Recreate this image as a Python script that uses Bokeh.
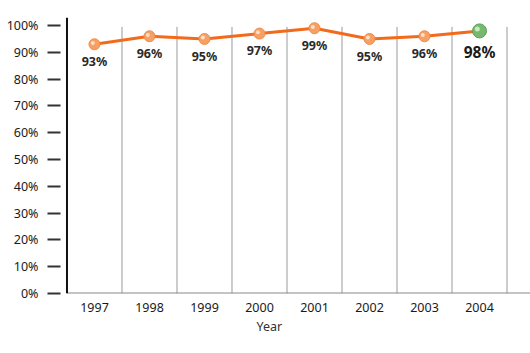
from bokeh.plotting import figure
from bokeh.models import Range1d, FixedTicker, Span, Title, ColumnDataSource
from bokeh.core.properties import value
from bokeh.embed import file_html
from bokeh.resources import INLINE

years = ["1997", "1998", "1999", "2000", "2001", "2002", "2003", "2004"]
rates = [93, 96, 95, 97, 99, 95, 96, 98]
labels = ["93%", "96%", "95%", "97%", "99%", "95%", "96%", "98%"]
y_ticks = [0, 10, 20, 30, 40, 50, 60, 70, 80, 90, 100]

xs = list(range(1, len(years) + 1))

p = figure(width=530, height=353, output_backend="svg", toolbar_location=None,
           x_range=Range1d(0.382, 8.927), y_range=Range1d(0, 103),
           min_border_left=60, min_border_right=0, min_border_top=17, min_border_bottom=60)
p.outline_line_color = None
p.xgrid.visible = False
p.ygrid.visible = False
p.background_fill_color = "white"
p.border_fill_color = "white"

font = "Noto Sans"

# y axis: detached ticks, labels
p.yaxis.ticker = FixedTicker(ticks=y_ticks)
p.yaxis.major_label_overrides = {t: f"{t}%" for t in y_ticks}
p.yaxis.axis_line_color = None
p.yaxis.major_tick_in = 0
p.yaxis.major_tick_out = 13
p.yaxis.major_tick_line_color = "#333333"
p.yaxis.major_tick_line_width = 2
p.yaxis.minor_tick_line_color = None
p.yaxis.major_label_standoff = 9
p.yaxis.major_label_text_font = font
p.yaxis.major_label_text_font_size = "12.5px"
p.yaxis.major_label_text_color = "#1a1a1a"

# x axis
p.xaxis.ticker = FixedTicker(ticks=xs)
p.xaxis.major_label_overrides = {x: y for x, y in zip(xs, years)}
p.xaxis.axis_line_color = None
p.xaxis.major_tick_line_color = None
p.xaxis.minor_tick_line_color = None
p.xaxis.major_label_standoff = 3
p.xaxis.major_label_text_font = font
p.xaxis.major_label_text_font_size = "12.5px"
p.xaxis.major_label_text_color = "#1a1a1a"

# category separators
seps = [x + 0.5 for x in xs]
p.segment(x0=seps, y0=[0] * len(seps), x1=seps, y1=[99.5] * len(seps),
          line_color="#9a9a9a", line_width=1)

# axes lines
p.segment(x0=[0.5], y0=[0], x1=[8.927], y1=[0], line_color="#8a8a8a", line_width=2)
p.add_layout(Span(location=0.5, dimension="height", line_color="#111111", line_width=2))

# line
p.line(xs, rates, line_color="#f26a1b", line_width=3)

src = ColumnDataSource(dict(x=xs[:-1], y=rates[:-1]))
p.scatter("x", "y", source=src, size=11, fill_color="#f6a064", line_color="#f08a4a", line_width=1)
p.scatter([x - 0.03 for x in xs[:-1]], [r + 0.5 for r in rates[:-1]], size=4,
          fill_color="#fde0c8", line_color=None)
p.scatter([xs[-1]], [rates[-1]], size=14, fill_color="#74b96e", line_color="#5aa355", line_width=1)
p.scatter([xs[-1] - 0.04], [rates[-1] + 0.7], size=5, fill_color="#c9e8c4", line_color=None)

# data labels
p.text(xs[:-1], [r - 3.3 for r in rates[:-1]], text=labels[:-1], text_align="center",
       text_baseline="top", text_font=value(font), text_font_size="12.5px",
       text_font_style="bold", text_color="#2a2a2a")
p.text([xs[-1]], [rates[-1] - 3.6], text=[labels[-1]], text_align="center",
       text_baseline="top", text_font=value(font), text_font_size="15.5px",
       text_font_style="bold", text_color="#1a1a1a")

t = Title(text="Year", align="left", offset=196, text_font=font, text_font_size="12.5px",
          text_font_style="normal", text_color="#333333", standoff=2)
p.add_layout(t, "below")

open("out.html", "w").write(file_html(p, INLINE))
